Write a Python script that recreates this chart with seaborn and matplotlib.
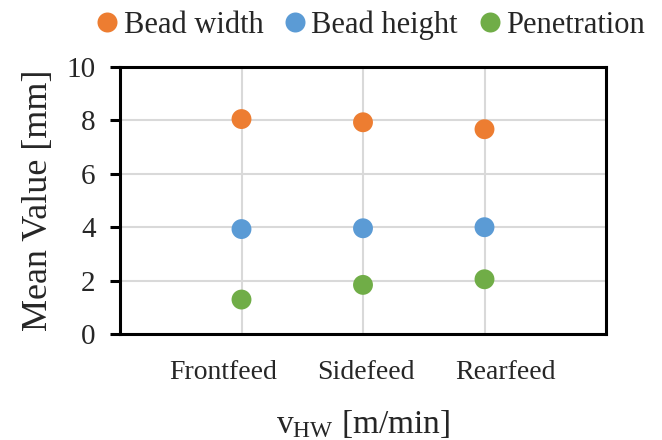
import matplotlib
matplotlib.use("Agg")
import matplotlib.pyplot as plt
import matplotlib.transforms as mtransforms
from matplotlib.lines import Line2D
import seaborn as sns
import pandas as pd

categories = ["Frontfeed", "Sidefeed", "Rearfeed"]
bead_width = [8.05, 7.93, 7.67]
bead_height = [3.93, 3.96, 4.00]
penetration = [1.29, 1.84, 2.05]
series_names = ["Bead width", "Bead height", "Penetration"]
colors = ["#ED7D31", "#5B9BD5", "#70AD47"]
y_ticks = [0, 2, 4, 6, 8, 10]

rows = []
for name, vals in zip(series_names, [bead_width, bead_height, penetration]):
    for c, v in zip(categories, vals):
        rows.append({"Category": c, "Series": name, "Value": v})
df = pd.DataFrame(rows)

sns.set_theme(style="white")
plt.rcParams["font.family"] = ["Liberation Serif", "DejaVu Serif"]
plt.rcParams["mathtext.fontset"] = "custom"
plt.rcParams["mathtext.rm"] = "Liberation Serif"
plt.rcParams["mathtext.it"] = "Liberation Serif:italic"

fig = plt.figure(figsize=(6.62, 4.40), dpi=100)
ax = fig.add_axes([120/662, 1-334/440, (606-120)/662, (334-67)/440])

sns.scatterplot(data=df, x="Category", y="Value", hue="Series",
                palette=colors, hue_order=series_names, s=205,
                edgecolor="none", linewidth=0, ax=ax, zorder=3, legend=False)

ax.set_xlim(-1, 3)
ax.set_ylim(0, 10)
ax.set_yticks(y_ticks)
ax.grid(True, color="#D9D9D9", linewidth=1.5, zorder=0)
ax.set_axisbelow(True)
for sp in ax.spines.values():
    sp.set_visible(True)
    sp.set_color("black")
    sp.set_linewidth(2.2)

ax.tick_params(axis="y", which="major", left=True, length=7.5, width=2.2,
               color="black", labelsize=21, pad=10)
ax.tick_params(axis="x", which="major", bottom=False, labelsize=20, pad=13)

# nudge x tick labels as in reference
offsets = [-18, 3, 21]
for lab, dx in zip(ax.get_xticklabels(), offsets):
    lab.set_transform(lab.get_transform() + mtransforms.ScaledTranslation(dx/100, 0, fig.dpi_scale_trans))

ax.set_ylabel("Mean Value [mm]", fontsize=26, labelpad=8)
ax.set_xlabel(r"v$_{\mathrm{HW}}$ [m/min]", fontsize=24, labelpad=17)

handles = [Line2D([], [], marker="o", linestyle="", markersize=14.4,
                  markerfacecolor=c, markeredgewidth=0) for c in colors]
fig.legend(handles, series_names, loc="center", bbox_to_anchor=(371/662, 1-25/440),
           ncol=3, frameon=False, fontsize=22, handlelength=0.65,
           handletextpad=0.2, columnspacing=0.72, borderaxespad=0, borderpad=0)

fig.savefig("out.png", dpi=100)
